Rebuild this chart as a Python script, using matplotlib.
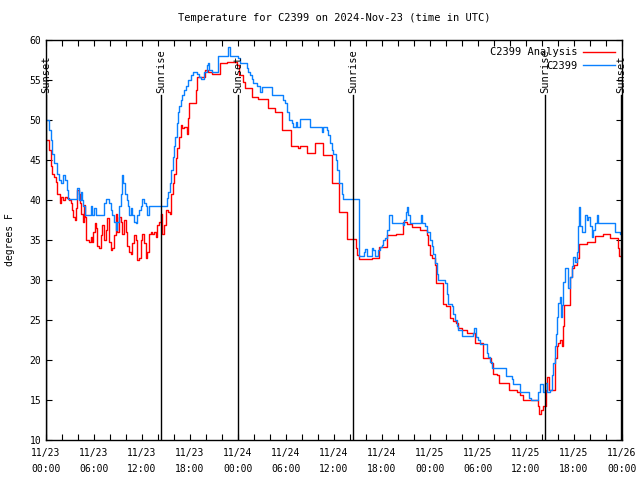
import matplotlib
matplotlib.use("Agg")
import matplotlib.pyplot as plt
import numpy as np

# ------ DATOS (horas desde 11/23 00:00 UTC) ------

red_hours = [0.0, 0.375, 0.58, 0.79, 1.0, 1.21, 1.42, 1.71, 1.92, 2.17, 2.33, 2.58, 2.875,
             3.08, 3.29, 3.42, 3.58, 3.71, 3.92, 4.125, 4.25, 4.42, 4.625, 4.75, 4.875,
             5.04, 5.375, 5.58, 5.79, 5.92, 6.08, 6.21, 6.42, 6.625, 6.83, 7.04, 7.25,
             7.46, 7.67, 7.875, 8.08, 8.29, 8.5, 8.71, 8.92, 9.125, 9.33, 9.54, 9.75,
             9.96, 10.17, 10.375, 10.58, 10.79, 11.0, 11.21, 11.42, 11.625, 11.83, 12.04,
             12.25, 12.46, 12.67, 12.875, 13.08, 13.29, 13.5, 13.71, 13.92, 14.125, 14.33,
             14.54, 14.75, 14.96, 15.25, 15.5, 15.67, 15.83, 16.0, 16.21, 16.42, 16.625,
             16.83, 17.04, 17.25, 17.58, 17.75, 17.875, 18.75, 18.92, 19.875, 20.29,
             20.71, 21.75, 22.58, 23.42, 23.83, 24.17, 24.67, 24.875, 25.71, 26.54,
             27.79, 28.625, 29.46, 30.58, 31.54, 31.75, 32.67, 33.625, 34.67, 35.71,
             36.67, 37.67, 38.75, 38.83, 39.17, 40.71, 41.67, 42.67, 43.75, 44.67, 45.08,
             45.71, 46.75, 47.58, 47.79, 48.0, 48.21, 48.625, 48.75, 49.67, 50.0, 50.5,
             50.92, 51.25, 51.54, 51.96, 52.58, 53.625, 54.67, 55.58, 55.83, 56.42,
             56.67, 57.92, 58.42, 58.83, 59.25, 59.67, 61.54, 61.67, 61.83, 62.08, 62.5,
             62.67, 62.92, 63.625, 63.83, 64.04, 64.25, 64.46, 64.58, 64.75, 65.5, 65.71,
             66.0, 66.33, 66.67, 67.58, 68.625, 69.67, 70.5, 71.54, 71.67, 72.0]
red_temps = [47.5, 46.25, 44.2, 43.3, 42.9, 42.3, 40.8, 39.6, 40.4, 40.0, 40.4, 40.2, 40.0,
             39.6, 38.75, 37.9, 37.5, 39.0, 41.25, 40.8, 39.6, 38.3, 37.3, 39.4, 37.9,
             35.0, 34.8, 35.4, 34.7, 36.0, 37.1, 36.5, 34.2, 34.0, 35.6, 36.9, 35.0,
             36.25, 37.7, 34.8, 33.75, 34.0, 35.6, 38.3, 36.0, 37.9, 37.3, 35.8, 37.5,
             36.0, 34.2, 33.5, 33.3, 34.6, 35.6, 35.0, 32.5, 32.7, 35.0, 35.8,
             34.6, 32.7, 33.5, 35.8, 36.0, 35.8, 36.0, 35.4, 36.9, 37.3, 38.3,
             35.8, 36.9, 38.75, 38.5, 38.3, 40.8, 42.1, 43.3, 45.2, 46.5, 47.9,
             49.4, 49.0, 49.1, 48.3, 50.2, 52.1, 53.75, 55.4, 56.25, 56.0,
             55.8, 57.1, 57.2, 57.3, 56.9, 55.6, 54.8, 54.0, 52.9, 52.6,
             51.5, 51.0, 48.75, 46.7, 46.5, 46.7, 45.9, 47.1, 45.6, 42.1,
             38.5, 35.1, 34.0, 33.1, 32.6, 32.8, 34.1, 35.6, 35.8, 37.2, 37.0,
             36.6, 36.25, 35.6, 34.4, 33.1, 32.7, 31.9, 29.6, 27.0, 26.75, 25.2,
             24.9, 24.6, 24.0, 23.75, 23.4, 22.1, 20.2, 19.6, 18.3, 18.1,
             17.1, 16.3, 16.25, 16.0, 15.6, 15.0, 14.2, 13.25, 13.75, 14.25, 16.25,
             17.9, 16.25, 20.2, 21.7, 22.1, 22.5, 21.7, 24.25, 26.9, 30.4, 31.5,
             31.9, 32.7, 34.5, 34.8, 35.5, 35.75, 35.2, 34.0, 33.0, 33.0]

blue_hours = [0.0, 0.375, 0.58, 0.79, 1.0, 1.33, 1.63, 1.92, 2.17, 2.33, 2.58, 2.75, 3.83,
              4.08, 4.33, 4.54, 4.67, 4.83, 5.58, 5.79, 6.0, 6.21, 7.25, 7.46, 7.875,
              8.08, 8.29, 8.5, 8.71, 8.92, 9.125, 9.33, 9.54, 9.67, 9.875, 10.08, 10.25,
              10.375, 10.58, 10.79, 11.0, 11.21, 11.42, 11.625, 11.83, 12.04, 12.25,
              12.46, 12.67, 12.875, 15.08, 15.25, 15.5, 15.67, 15.83, 16.0, 16.17, 16.33,
              16.5, 16.625, 16.83, 17.04, 17.25, 17.46, 17.75, 18.08, 18.375, 18.83,
              19.17, 19.33, 19.75, 20.08, 20.21, 20.375, 20.71, 21.54, 22.79, 23.0,
              24.04, 24.25, 25.08, 25.29, 25.5, 25.71, 25.92, 26.33, 26.75, 26.96,
              28.21, 29.67, 29.875, 30.17, 30.42, 30.71, 30.92, 31.25, 31.42, 31.75,
              33.0, 34.46, 34.67, 35.08, 35.29, 35.5, 35.71, 35.92, 36.25, 36.42, 36.67,
              36.96, 37.17, 39.17, 39.75, 39.875, 40.08, 40.71, 40.92, 41.125, 41.54,
              41.75, 41.96, 42.17, 42.375, 42.67, 42.92, 43.21, 44.58, 44.75, 45.0,
              45.17, 45.29, 45.5, 46.83, 46.96, 47.375, 47.58, 48.0, 48.21, 48.42,
              48.625, 48.83, 49.04, 49.875, 50.08, 50.29, 50.71, 50.92, 51.125, 51.33,
              51.54, 51.96, 53.42, 53.54, 53.75, 54.04, 54.25, 55.08, 55.29, 55.5,
              55.71, 57.5, 58.21, 58.42, 59.25, 60.42, 60.58, 61.54, 61.75, 62.08,
              62.17, 62.375, 62.58, 63.0, 63.21, 63.42, 63.625, 63.75, 63.92, 64.04,
              64.25, 64.33, 64.46, 64.67, 64.875, 65.17, 65.29, 65.5, 65.71, 65.92,
              66.125, 66.33, 66.46, 66.58, 66.75, 66.96, 67.375, 67.58, 67.79, 68.0,
              68.21, 68.42, 68.625, 68.83, 69.04, 71.125, 71.75, 72.0]
blue_temps = [50.0, 48.75, 47.5, 45.8, 44.6, 43.3, 42.5, 42.1, 43.1, 42.5, 41.25, 40.1, 41.5,
              40.0, 41.0, 40.0, 39.2, 38.1, 39.2, 38.1, 39.0, 38.1, 39.6, 40.1, 39.6,
              38.75, 38.1, 37.3, 36.25, 37.2, 39.2, 40.8, 43.1, 42.1, 40.8, 40.0, 39.2,
              38.1, 39.0, 38.1, 37.3, 37.1, 38.1, 38.75, 39.2, 40.1, 39.6,
              39.2, 38.1, 39.2, 40.2, 41.0, 42.1, 43.75, 45.4, 46.7, 47.9, 49.6,
              51.0, 51.7, 52.5, 53.1, 53.75, 54.2, 55.0, 55.6, 56.0, 55.8,
              55.4, 55.1, 56.0, 56.9, 57.1, 56.25, 56.0, 58.0, 59.1, 58.0,
              57.7, 57.1, 56.5, 56.0, 55.6, 55.1, 54.6, 54.2, 53.5, 54.1,
              53.1, 52.5, 52.1, 51.0, 50.0, 49.6, 49.1, 49.8, 49.1, 50.1,
              49.1, 48.5, 49.1, 48.75, 48.1, 47.1, 46.25, 45.8, 45.0, 43.75, 42.1,
              40.8, 40.1, 33.0, 33.5, 33.9, 33.0, 34.0, 33.75, 33.0, 33.75,
              34.1, 34.4, 35.0, 35.2, 36.25, 38.1, 37.1, 36.9, 37.5, 38.5,
              39.1, 38.1, 37.1, 38.1, 37.1, 36.7, 36.0, 35.0, 34.2, 33.3,
              32.1, 30.8, 30.0, 29.6, 28.3, 27.0, 26.7, 25.8, 25.0, 24.2,
              23.75, 23.0, 23.4, 24.0, 22.9, 22.5, 22.0, 20.9, 20.4, 19.8,
              19.0, 18.0, 17.6, 17.0, 16.0, 15.2, 15.0, 16.0, 17.0, 16.5,
              16.0, 17.1, 16.0, 16.25, 18.1, 19.6, 21.7, 23.3, 25.4, 27.1,
              27.9, 25.4, 26.9, 29.8, 31.5, 31.5, 29.0, 30.4, 31.7, 32.9,
              32.3, 33.5, 36.7, 39.1, 36.7, 36.0, 38.1, 37.5, 37.9, 36.7,
              35.4, 36.25, 37.1, 38.1, 37.1, 36.0, 35.8, 35.8]

sun_hours = [0.0, 14.375, 24.0, 38.4, 62.4, 71.9]
sun_labels = ["Sunset", "Sunrise", "Sunset", "Sunrise", "Sunrise", "Sunset"]

tick_hours = list(range(0, 73, 6))
tick_labels = ["11/23\n00:00", "11/23\n06:00", "11/23\n12:00", "11/23\n18:00",
               "11/24\n00:00", "11/24\n06:00", "11/24\n12:00", "11/24\n18:00",
               "11/25\n00:00", "11/25\n06:00", "11/25\n12:00", "11/25\n18:00",
               "11/26\n00:00"]

# ------ FIGURA ------

plt.rcParams['font.family'] = ['DejaVu Sans Mono']
plt.rcParams['font.size'] = 7

fig = plt.figure(figsize=(6.4, 4.8), dpi=100)
ax = fig.add_axes([46 / 640, 40 / 480, 576 / 640, 400 / 480])

red_line, = ax.plot(red_hours, red_temps, color='#ff0000', lw=1.0,
                    drawstyle='steps-post', label='C2399 Analysis')
blue_line, = ax.plot(blue_hours, blue_temps, color='#0a80ff', lw=1.0,
                     drawstyle='steps-post', label='C2399')

for h, lab in zip(sun_hours, sun_labels):
    ax.axvline(h, ymin=0, ymax=0.8625, color='black', lw=1.0)
    ax.text(h, 0.868, lab, rotation=90, ha='center', va='bottom',
            transform=ax.get_xaxis_transform(), fontsize=7.5)

ax.set_xlim(0, 72)
ax.set_ylim(10, 60)
ax.set_xticks(tick_hours)
ax.set_xticklabels(tick_labels)
for lbl in ax.get_xticklabels():
    lbl.set_linespacing(1.7)
ax.set_xticks(np.arange(0, 73, 2), minor=True)
ax.set_yticks(np.arange(10, 61, 5))
ax.tick_params(which='both', direction='in', top=True, right=True, length=4, width=0.8)
ax.tick_params(axis='x', pad=6)
for s in ax.spines.values():
    s.set_linewidth(1.0)

ax.set_ylabel('degrees F', labelpad=10)
ax.set_title('Temperature for C2399 on 2024-Nov-23 (time in UTC)', pad=14, fontsize=7.5)

ax.legend(handles=[red_line, blue_line], loc='upper right', frameon=False,
          markerfirst=False, handlelength=3.0, borderaxespad=0.3, labelspacing=0.35,
          fontsize=7.5, handletextpad=0.6)

fig.savefig('out.png', dpi=100)
